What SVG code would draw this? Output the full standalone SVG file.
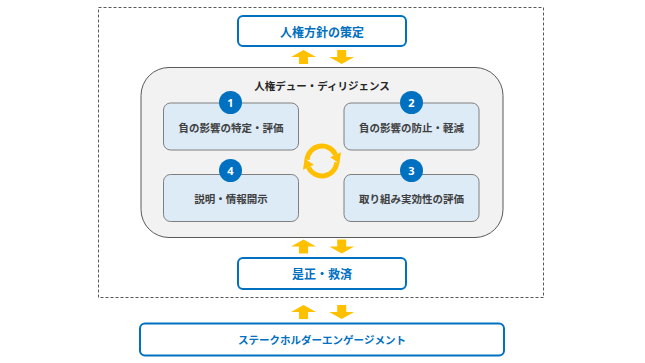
<svg xmlns="http://www.w3.org/2000/svg" width="645" height="363" viewBox="0 0 645 363">
<style>
.jp{font-family:"Noto Sans CJK JP","Noto Sans",sans-serif;font-weight:bold}
.blue{fill:#0070C0}
.dark{fill:#404040}
.bbox{fill:#fff;stroke:#0070C0;stroke-width:2}
.ibox{fill:#DDEBF7;stroke:#7F7F7F;stroke-width:1}
.num{fill:#0070C0}
.numt{fill:#fff;font-family:"Noto Sans","Liberation Sans",sans-serif;font-weight:bold;font-size:11px}
.ya{fill:#FFC000}
</style>
<defs>
<path id="up" d="M0,0 L12.5,7 L4.5,7 L4.5,14 L-4.5,14 L-4.5,7 L-12.5,7 Z"/>
<path id="down" d="M-4.5,0 L4.5,0 L4.5,7 L12.5,7 L0,14 L-12.5,7 L-4.5,7 Z"/>
</defs>
<rect width="645" height="363" fill="#fff"/>
<rect id="scope" x="98.5" y="7.5" width="445" height="290" fill="none" stroke="#595959" stroke-width="1" stroke-dasharray="3,2"/>

<g id="policy">
<rect class="bbox" x="238" y="16" width="168" height="30" rx="5"/>
<text class="jp blue" x="322" y="31" font-size="12" text-anchor="middle" dominant-baseline="central">人権方針の策定</text>
</g>

<g id="dd">
<rect x="141" y="67.5" width="362" height="170" rx="28" fill="#F2F2F2" stroke="#595959" stroke-width="1"/>
<text class="jp" x="322" y="85" font-size="10.5" fill="#262626" text-anchor="middle" dominant-baseline="central">人権デュー・ディリジェンス</text>
</g>

<g id="step1">
<rect class="ibox" x="163.5" y="103" width="135" height="47" rx="7"/>
<text class="jp dark" x="231" y="127" font-size="10.5" text-anchor="middle" dominant-baseline="central">負の影響の特定・評価</text>
<circle class="num" cx="230.5" cy="102.5" r="11.5"/>
<text class="numt" x="230.5" y="102.5" text-anchor="middle" dominant-baseline="central">1</text>
</g>
<g id="step2">
<rect class="ibox" x="344" y="103" width="135" height="47" rx="7"/>
<text class="jp dark" x="411.5" y="127" font-size="10.5" text-anchor="middle" dominant-baseline="central">負の影響の防止・軽減</text>
<circle class="num" cx="411.5" cy="102.5" r="11.5"/>
<text class="numt" x="411.5" y="102.5" text-anchor="middle" dominant-baseline="central">2</text>
</g>
<g id="step3">
<rect class="ibox" x="344" y="174.5" width="135" height="47" rx="7"/>
<text class="jp dark" x="411.5" y="198" font-size="10.5" text-anchor="middle" dominant-baseline="central">取り組み実効性の評価</text>
<circle class="num" cx="411.5" cy="170.5" r="11.5"/>
<text class="numt" x="411.5" y="170.5" text-anchor="middle" dominant-baseline="central">3</text>
</g>
<g id="step4">
<rect class="ibox" x="163.5" y="174.5" width="135" height="47" rx="7"/>
<text class="jp dark" x="231" y="198" font-size="10.5" text-anchor="middle" dominant-baseline="central">説明・情報開示</text>
<circle class="num" cx="230.5" cy="170.5" r="11.5"/>
<text class="numt" x="230.5" y="170.5" text-anchor="middle" dominant-baseline="central">4</text>
</g>

<g id="cycle">
<path d="M307.06,159.7 A15 15 0 0 1 335.6,154.7" fill="none" stroke="#FFC000" stroke-width="5"/>
<polygon class="ya" points="341,152.2 330.2,157.2 339.4,163.5"/>
<path d="M336.9,162.3 A15 15 0 0 1 308.4,167.3" fill="none" stroke="#FFC000" stroke-width="5"/>
<polygon class="ya" points="303,169.8 313.8,164.8 304.6,158.5"/>
</g>

<g id="remedy">
<rect class="bbox" x="238" y="258" width="168" height="31" rx="5"/>
<text class="jp blue" x="322" y="273.5" font-size="12" text-anchor="middle" dominant-baseline="central">是正・救済</text>
</g>

<g id="engagement">
<rect class="bbox" x="140" y="323.5" width="364" height="32" rx="5"/>
<text class="jp blue" x="322" y="339.5" font-size="10.5" text-anchor="middle" dominant-baseline="central">ステークホルダーエンゲージメント</text>
</g>

<g id="connectors" class="ya">
<use href="#up" x="303.5" y="50"/>
<use href="#down" x="341.7" y="50"/>
<use href="#up" x="303.5" y="239.5"/>
<use href="#down" x="341.7" y="239.5"/>
<use href="#up" x="303.5" y="305"/>
<use href="#down" x="341.7" y="305"/>
</g>
</svg>
